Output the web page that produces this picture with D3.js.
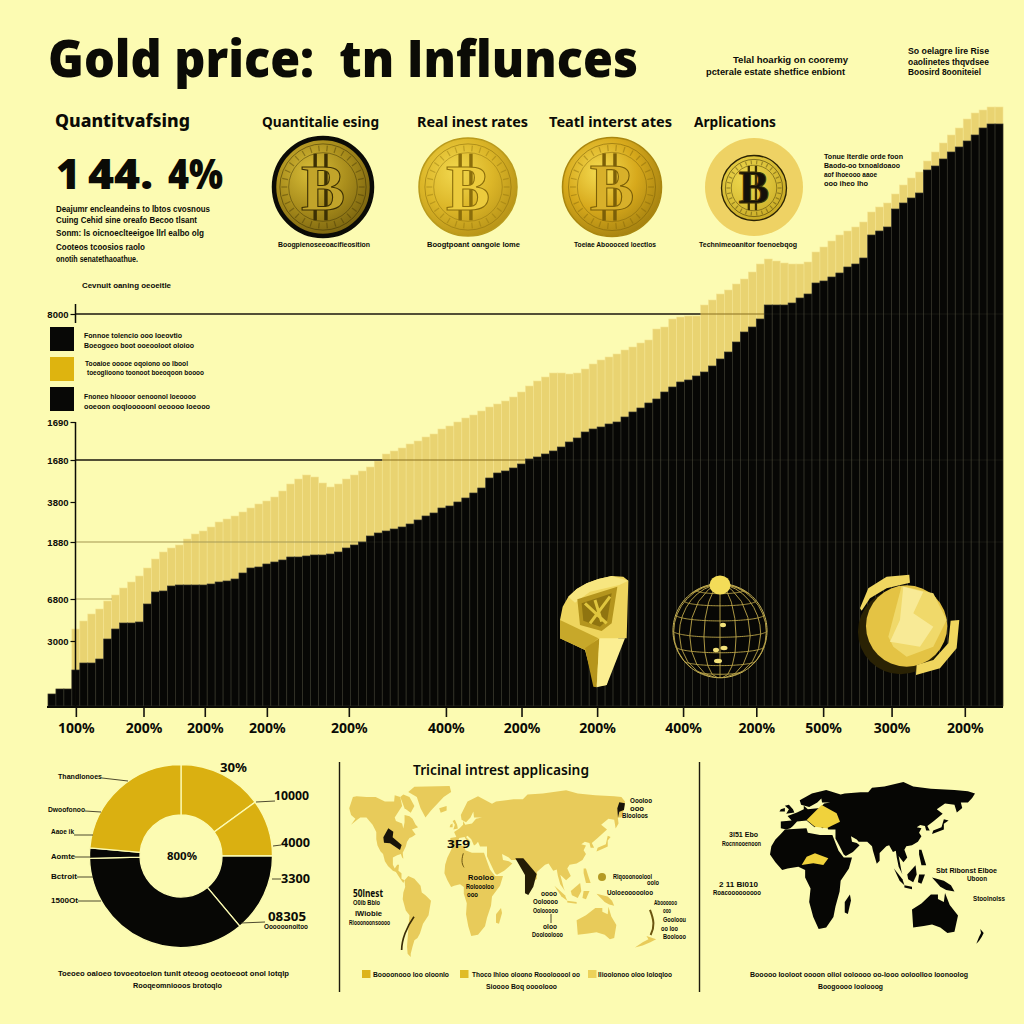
<!DOCTYPE html>
<html><head><meta charset="utf-8">
<script src="https://cdn.jsdelivr.net/npm/d3@7/dist/d3.min.js"></script>
<style>html,body{margin:0;padding:0;background:#fcfbb2}svg{display:block}</style>
</head><body><svg id="c" width="1024" height="1024"></svg>
<script>
// ---------- chart values ----------
const blackValues=[12,17,17,36,43,43,47,67,77,83,83,84,102,114,115,120,121,121,121,121,122,124,125,127,133,138,139,142,144,146,149,149,150,151,151,152,154,158,161,164,170,
173,175,177,179,182,186,190,193,198,200,204,208,213,218,228,233,235,238,242,247,249,252,255,259,264,268,274,277,279,282,284,289,294,298,303,307,314,319,324,326,330,
334,340,347,354,364,374,379,387,401,401,401,403,408,412,423,425,429,433,439,442,448,471,475,479,497,503,508,513,536,540,547,554,559,565,571,578,582,582];
const goldTotals=[12,17,17,77,85,92,97,105,111,118,124,130,138,147,154,158,161,167,172,175,179,184,187,190,194,198,202,205,209,215,222,227,231,229,223,219,222,227,231,235,239,
245,252,255,258,262,265,269,272,277,280,284,288,291,295,299,302,305,309,314,320,325,329,333,333,332,333,337,342,346,349,352,356,359,363,366,377,379,387,389,390,390,
401,406,412,416,422,427,434,442,447,445,443,442,442,444,454,459,465,471,475,479,484,494,499,503,512,521,528,534,545,554,563,571,578,587,593,596,599,599];
const yTickValues=[392,284,246,204,164,107,65];
const yTickLabels=["8000","1690","1680","3800","1880","6800","3000"];
const xTickIndex=[3.5,12,19.7,27.5,37.8,50,59.5,69,79.8,89,97.4,106,115.2];
const xTickLabels=["100%","200%","200%","200%","200%","400%","200%","200%","400%","200%","500%","300%","200%"];
const strongGrid=[392,246];
const faintGrid=[164,107];
const donutValues=[15,10,13.9,35.7,1.8,23.6];
const donutKinds=["gold","gold","black","black","black","gold"];
// ---------- coarse land outlines, lon/lat ----------
const northAmerica=[[-168,65],[-162,70],[-156,71],[-140,70],[-125,70],[-110,68],[-95,68],[-94,72],[-85,70],[-82,66],[-94,60],[-92,57],[-82,55],[-80,51],[-78,56],[-78,62],[-70,61],[-65,59],[-60,54],[-56,52],[-66,50],[-60,46],[-66,44],[-70,43],[-74,40],[-76,36],[-81,31],[-80,26],[-82,27],[-84,30],[-90,29],[-97,27],[-97,21],[-94,18],[-90,21],[-87,21],[-88,16],[-83,14],[-83,10],[-78,9],[-80,7],[-85,10],[-92,15],[-97,16],[-105,20],[-110,24],[-113,30],[-117,32],[-122,37],[-124,42],[-124,48],[-130,54],[-140,60],[-150,60],[-155,58],[-165,54],[-158,59],[-165,62]];
const greenland=[[-62,82],[-10,83],[-8,76],[-18,70],[-35,64],[-44,60],[-52,65],[-58,70],[-72,76]];
const baffin=[[-80,73],[-70,70],[-62,66],[-68,63],[-78,65],[-85,70]];
const southAmerica=[[-78,9],[-72,12],[-62,10],[-52,5],[-50,0],[-44,-2],[-35,-6],[-37,-12],[-39,-18],[-48,-25],[-53,-33],[-57,-37],[-62,-39],[-65,-45],[-68,-52],[-68,-55],[-73,-52],[-74,-45],[-72,-30],[-70,-18],[-76,-14],[-81,-5],[-80,0],[-77,4]];
const africa=[[-6,36],[10,37],[11,33],[20,31],[32,31],[35,24],[38,17],[43,12],[51,12],[48,5],[40,-3],[39,-10],[35,-20],[33,-27],[26,-34],[19,-35],[15,-27],[12,-17],[13,-8],[9,-1],[9,4],[4,6],[-4,5],[-8,4],[-13,9],[-17,14],[-16,21],[-13,27],[-9,32]];
const madagascar=[[49,-12],[50,-16],[47,-25],[44,-24],[44,-17]];
const eurasia=[[-9,37],[-9,43],[-1,44],[-4,48],[3,51],[8,54],[8,57],[11,54],[20,55],[24,59],[30,60],[22,60],[21,65],[24,66],[18,60],[12,56],[6,58],[5,62],[14,68],[26,71],[40,67],[44,68],[60,69],[68,69],[72,73],[85,74],[105,78],[115,74],[130,72],[150,71],[160,70],[165,68],[163,64],[160,60],[155,60],[156,55],[152,51],[150,58],[142,59],[135,54],[140,50],[132,43],[127,39],[129,35],[126,35],[125,39],[121,40],[118,38],[122,37],[120,33],[122,30],[119,25],[114,22],[108,21],[106,18],[109,12],[105,9],[100,13],[103,3],[104,1],[100,6],[98,12],[97,17],[94,16],[90,22],[87,21],[80,15],[80,10],[77,8],[73,17],[72,21],[67,25],[58,25],[56,27],[50,30],[51,25],[56,24],[59,22],[52,16],[45,13],[43,14],[39,21],[35,28],[35,36],[28,36],[26,40],[24,38],[22,37],[19,42],[14,45],[12,44],[18,40],[16,38],[10,44],[3,43],[0,39],[-2,37],[-5,36]];
const britain=[[-5,50],[1,51],[0,54],[-3,58],[-6,57],[-3,54]];
const ireland=[[-10,52],[-6,52],[-6,55],[-9,54]];
const iceland=[[-24,65],[-14,66],[-14,64],[-22,63]];
const japan=[[131,32],[136,34],[141,36],[141,41],[145,44],[141,45],[139,38],[132,35]];
const sumatra=[[95,5],[104,-2],[106,-6],[101,-3]];
const borneo=[[109,1],[117,7],[118,1],[115,-4],[110,-2]];
const java=[[106,-6],[114,-7],[114,-8.5],[106,-7.5]];
const sulawesi=[[120,1],[125,1],[122,-5],[119,-4]];
const newGuinea=[[131,-1],[141,-3],[147,-6],[150,-10],[143,-9],[138,-7]];
const philippines=[[120,18],[122,18],[124,12],[126,7],[122,7],[120,14]];
const australia=[[114,-22],[122,-18],[130,-12],[136,-12],[136,-15],[141,-17],[142,-11],[146,-19],[153,-26],[150,-37],[144,-38],[138,-34],[131,-32],[124,-33],[115,-34]];
const newZealand=[[173,-35],[178,-38],[175,-41],[171,-44],[167,-46],[171,-41],[174,-38]];
const oldWorld=[africa,madagascar,eurasia,britain,ireland,japan,sumatra,borneo,java,sulawesi,newGuinea,philippines,australia,newZealand];
const allWorld=[northAmerica,greenland,baffin,southAmerica,iceland,...oldWorld];

// ---------- setup ----------
const svg=d3.select("#c");
const INK="#0b0b06",BG="#fcfbb2",BAR_GOLD="#e9d371",GOLD="#dab011",MAP_GOLD="#e8cb5a";
svg.append("rect").attr("width",1024).attr("height",1024).attr("fill",BG);
const defs=svg.append("defs");
const T=(x1,x2,y,s,size=8,weight=700,font="Liberation Sans",g=svg)=>{
  const t=g.append("text").attr("x",x1).attr("y",y).text(s).attr("fill",INK)
   .attr("font-family",font).attr("font-size",size).attr("font-weight",weight);
  if(x2!=null) t.attr("textLength",x2-x1).attr("lengthAdjust","spacingAndGlyphs");
  return t;};
const H="Noto Sans";

// ---------- headings ----------
T(48,638,77,"Gold price:\u00A0\u00A0tn Influnces",51,800,"Open Sans");
T(733,848,63,"Telal hoarkig on cooremy",9);
T(706,845,75,"pcterale estate shetfice enbiont",9);
T(908,989,54,"So oelagre lire Rise",9);
T(908,989,65,"oaolinetes thqvdsee",9);
T(908,981,75,"Boosird 8ooniteiel",9);
T(55,190,127,"Quantitvafsing",18,800,H);
T(262,379,127,"Quantitalie esing",15,700,H);
T(417,528,127,"Real inest rates",15,700,H);
T(549,672,127,"Teatl interst ates",15,700,H);
T(694,776,127,"Arplications",15,700,H);
T(56,80,189,"1",43,800,"Open Sans");
T(88,153,189,"44.",43,800,"Open Sans");
T(168,223,189,"4%",43,800,"Open Sans");
[[210,212,"Deajumr encleandeins to lbtos cvosnous"],[197,223,"Cuing Cehid sine oreafo Becoo tlsant"],[204,236,"Sonm: ls oicnoeclteeigoe llrl ealbo olg"],[145,250,"Cooteos tcoosios raolo"],[138,262,"onotih senatethaoathue."]]
 .forEach(d=>T(56,d[0],d[1],d[2],8.5));
T(82,171,288,"Cevnuit oaning oeoeitle",8);
T(278,370,247,"Boogpienoseeoacifieosition",8);
T(427,520,247,"Boogtpoant oangoie lome",8);
T(574,656,247,"Toeiae Aboooced loectlos",8);
T(699,797,247,"Technimeoanitor foenoebqog",8);
[[903,159,"Tonue Iterdie orde foon"],[900,168,"Baodo-oo txnoaldoaoo"],[877,177,"aof Ihoeooo aaoe"],[868,186,"ooo iheo lho"]]
 .forEach(d=>T(824,d[0],d[1],d[2],8));

// ---------- coins ----------
function coin(id,cx,cy,r,stops,ring,ringW,bColor,bFill,bScale){
  const g=defs.append("radialGradient").attr("id",id).attr("cx","38%").attr("cy","35%").attr("r","75%");
  stops.forEach((c,i)=>g.append("stop").attr("offset",i/(stops.length-1)).attr("stop-color",c));
  const c=svg.append("g").attr("transform",`translate(${cx},${cy})`);
  c.append("circle").attr("r",r).attr("fill",`url(#${id})`).attr("stroke",ring).attr("stroke-width",ringW);
  c.append("circle").attr("r",r*.88).attr("fill","none").attr("stroke",bColor).attr("stroke-width",.8).attr("opacity",.7);
  c.append("circle").attr("r",r*.7).attr("fill","none").attr("stroke",bColor).attr("stroke-width",.8).attr("opacity",.6);
  c.selectAll("line.t").data(d3.range(0,360,12)).join("line").attr("class","t")
   .attr("x1",r*.73).attr("x2",r*.85).attr("stroke",bColor).attr("stroke-width",1.2).attr("opacity",.4)
   .attr("transform",d=>`rotate(${d})`);
  c.selectAll("line.v").data([-r*.16,r*.06]).join("line").attr("class","v")
   .attr("x1",d=>d).attr("x2",d=>d).attr("y1",-r*.68).attr("y2",r*.68).attr("stroke",bColor).attr("stroke-width",r*.07);
  c.append("text").text("B").attr("text-anchor","middle").attr("y",r*bScale*.34)
   .attr("font-family","Liberation Serif").attr("font-weight",700).attr("font-size",r*bScale)
   .attr("fill",bFill).attr("stroke",bColor).attr("stroke-width",1.1);
  return c;
}
coin("c1",323,187,49,["#d8bd38","#a98d1c","#6f5a0c"],"#0b0b06",4.5,"#3c3004","#c2a42a",1.35);
coin("c2",468,187,49,["#f2d84e","#dcb628","#b18d15"],"#b99a1c",1.5,"#8b6e0c","#eccb3d",1.35);
coin("c3",612,187,49.5,["#f5dc52","#d7a91c","#9c7a0e"],"#a9860f",1.5,"#7b5f08","#d8b02a",1.35);
svg.append("circle").attr("cx",754).attr("cy",187).attr("r",49).attr("fill","#eed264");
coin("c4",754,188,32.5,["#efd94e","#dcc23a","#c4a520"],"#2a2204",1.3,"#3a2f05","#14110a",1.4);

// ---------- main chart ----------
const chart=svg.append("g");
const xBand=d3.scaleBand().domain(d3.range(blackValues.length)).range([48,1003]);
const xTick=d3.scaleLinear().domain([0,120]).range([48,1003]);
const y=d3.scaleLinear().domain([0,600]).range([706,106]);
chart.selectAll("rect.g").data(goldTotals).join("rect").attr("class","g")
 .attr("x",(d,i)=>xBand(i)).attr("width",xBand.bandwidth()).attr("y",d=>y(d)).attr("height",d=>y(0)-y(d))
 .attr("fill",BAR_GOLD).attr("stroke","#f3e390").attr("stroke-width",.6);
// strong grid: dark over open background, brown where it crosses the gold bars
const firstOver=v=>xBand(goldTotals.findIndex(d=>d>v));
chart.selectAll("line.s").data(strongGrid).join("line").attr("class","s")
 .attr("x1",76).attr("x2",d=>firstOver(d)).attr("y1",d=>y(d)).attr("y2",d=>y(d)).attr("stroke","#17130a").attr("stroke-width",1.6);
chart.selectAll("line.sb").data(strongGrid).join("line").attr("class","sb")
 .attr("x1",d=>firstOver(d)).attr("x2",1003).attr("y1",d=>y(d)).attr("y2",d=>y(d)).attr("stroke","#9a7d20").attr("stroke-width",1.2);
chart.selectAll("line.f").data(faintGrid).join("line").attr("class","f")
 .attr("x1",76).attr("x2",(d,i)=>i?112:1003).attr("y1",d=>y(d)).attr("y2",d=>y(d)).attr("stroke","#b7a95c").attr("stroke-width",1);
chart.selectAll("rect.b").data(blackValues).join("rect").attr("class","b")
 .attr("x",(d,i)=>xBand(i)).attr("width",xBand.bandwidth()).attr("y",d=>y(d)).attr("height",d=>y(0)-y(d))
 .attr("fill","#070705").attr("stroke","#33332a").attr("stroke-width",.7);
chart.selectAll("line.o").data([392,246,164]).join("line").attr("class","o")
 .attr("x1",76).attr("x2",1003).attr("y1",d=>y(d)).attr("y2",d=>y(d)).attr("stroke","#6d6a4e").attr("stroke-width",.8).attr("opacity",.22);
const yAxis=chart.append("g").attr("transform","translate(75.5,0)")
 .call(d3.axisLeft(y).tickValues(yTickValues).tickSize(5).tickPadding(2).tickFormat((d,i)=>yTickLabels[i]));
yAxis.select(".domain").remove();
yAxis.selectAll("line").attr("stroke",INK).attr("stroke-width",1.2);
yAxis.selectAll("text").attr("font-family","Liberation Sans").attr("font-weight",700).attr("font-size",9.5).attr("fill",INK);
[[304,323],[422,706]].forEach(d=>chart.append("line").attr("x1",75.5).attr("x2",75.5).attr("y1",d[0]).attr("y2",d[1]).attr("stroke",INK).attr("stroke-width",1.5));
const xAxis=chart.append("g").attr("transform","translate(0,707)")
 .call(d3.axisBottom(xTick).tickValues(xTickIndex).tickSize(10).tickPadding(6).tickFormat((d,i)=>xTickLabels[i]));
xAxis.select(".domain").attr("d","M47,0H1003").attr("stroke",INK).attr("stroke-width",2.2);
xAxis.selectAll("line").attr("stroke","#14130c").attr("stroke-width",1.6);
xAxis.selectAll("text").attr("font-family",H).attr("font-weight",700).attr("font-size",14).attr("fill",INK);

// legend
[[327,"#080806"],[357,"#deb40f"],[387,"#080806"]].forEach(d=>svg.append("rect").attr("x",50).attr("y",d[0]).attr("width",24).attr("height",24).attr("fill",d[1]));
T(84,182,338,"Fonnoe tolencio ooo Ioeovtio",8);T(84,194,348,"Boeogoeo boot ooeooloot oloioo",8);
T(85,188,366,"Tooaioe ooooe oqoiono oo Ibool",8);T(87,204,375,"toeoglioono toonoot boeoqoon boooo",8);
T(84,196,399,"Fnoneo hloooor oenoonol loeoooo",8);T(84,210,409,"ooeoon ooqlooooonl oeoooo Ioeooo",8);

// ---------- illustrations over the bars ----------
const art=svg.append("g").attr("transform","translate(540,560) scale(0.3333)");
const poly=(g,pts,fill,stroke,w)=>g.append("path").attr("d",d3.line()(pts)+"Z").attr("fill",fill).attr("stroke",stroke||"none").attr("stroke-width",w||0);
poly(art,[[60,180],[68,140],[85,110],[110,87],[140,70],[175,57],[215,48],[250,50],[265,62],[260,235],[235,235],[200,375],[165,380],[135,270],[60,235]],"#eed55e");
poly(art,[[60,180],[175,235],[135,270],[60,235]],"#c7a82a");
poly(art,[[135,265],[178,235],[170,382],[160,380]],"#b6951c");
poly(art,[[178,235],[255,235],[200,375],[170,382]],"#fbee92");
poly(art,[[85,110],[110,87],[140,70],[175,57],[215,48],[265,62],[238,75],[150,95],[105,128]],"#f7e680");
poly(art,[[112,118],[232,80],[215,190],[185,213],[120,195]],"#b4951e");
poly(art,[[125,130],[215,100],[202,180],[180,200],[130,182]],"#8f7410");
art.append("path").attr("d","M135,130L200,190M210,110L150,190M165,120L185,185").attr("stroke","#e0c63e").attr("stroke-width",9).attr("fill","none");
// globe
const globeProj=d3.geoOrthographic().scale(47).translate([720,630.7]).rotate([0,-8]);
const globe=svg.append("g");
globe.append("path").datum({type:"Sphere"}).attr("d",d3.geoPath(globeProj)).attr("fill","#070705").attr("stroke","#cdb95c").attr("stroke-width",1);
globe.append("path").datum(d3.geoGraticule().step([20,20])()).attr("d",d3.geoPath(globeProj)).attr("fill","none").attr("stroke","#bda64a").attr("stroke-width",.9);
globe.append("ellipse").attr("cx",720).attr("cy",585).attr("rx",10.5).attr("ry",9.5).attr("fill","#f3dc58");
[[723,625,3],[716,650,3],[724,648,3.5],[718,661,4]].forEach(d=>globe.append("ellipse").attr("cx",d[0]).attr("cy",d[1]).attr("rx",d[2]).attr("ry",2.2).attr("fill","#f3e27a"));
// broken coin
const bk=svg.append("g").attr("transform","translate(540,560) scale(0.3333)");
bk.append("circle").attr("cx",1082).attr("cy",215).attr("r",128).attr("fill","#2a2204");
bk.append("circle").attr("cx",1100).attr("cy",198).attr("r",122).attr("fill","#e4c344");
poly(bk,[[960,145],[985,85],[1040,50],[1108,44],[1110,68],[1040,85],[990,115],[965,152]],"#f0d760");
poly(bk,[[1085,78],[1180,100],[1220,180],[1180,260],[1100,290],[1060,260],[1045,230]],"#f0d96a");
poly(bk,[[1090,80],[1150,95],[1120,160],[1180,200],[1140,260],[1050,245],[1080,180]],"#f8ea96");
poly(bk,[[1130,315],[1128,345],[1200,325],[1250,265],[1258,180],[1232,182],[1225,250],[1180,300]],"#f0d65e");

// ---------- donut ----------
const dg=svg.append("g").attr("transform","translate(181,856)");
const arc=d3.arc().innerRadius(41).outerRadius(91.5);
const pie=d3.pie().sort(null).value(d=>d);
dg.selectAll("path").data(pie(donutValues)).join("path").attr("d",arc)
 .attr("fill",(d,i)=>donutKinds[i]==="gold"?GOLD:"#070705").attr("stroke",BG).attr("stroke-width",1.3);
const lead=(x1,y1,x2,y2)=>svg.append("line").attr("x1",x1).attr("y1",y1).attr("x2",x2).attr("y2",y2).attr("stroke","#3a3520").attr("stroke-width",.9);
T(220,247,772,"30%",13,700,H);T(274,309,800,"10000",13,700,H);T(281,310,847,"4000",13,700,H);T(281,310,883,"3300",13,700,H);
T(268,306,921,"08305",12,700,H);T(264,308,929,"Oooooonoitoo",7);
T(58,102,779,"Thandlonoes",7.5);T(48,85,812,"Dwoofonoo",7.5);T(51,74,834,"Aaoe ik",7.5);T(51,75,859,"Aomte",7.5);T(51,77,879,"Bctroit",7.5);T(51,78,903,"1500Ot",7.5);
lead(102,778,128,781);lead(85,811,101,812);lead(74,835,93,835);lead(75,857,91,857);lead(77,877,93,877);lead(78,901,101,901);
lead(256,802,275,801);lead(273,846,281,845);lead(272,879,281,879);lead(241,923,265,922);
T(167,197,860,"800%",11,700,H);
T(58,289,976,"Toeoeo oaloeo tovoeotoelon tunlt oteoog oeotoeoot onol lotqlp",8);
T(133,222,988,"Rooqeomniooos brotoqlo",8);
[339.5,699.5].forEach(x=>svg.append("line").attr("x1",x).attr("x2",x).attr("y1",762).attr("y2",992).attr("stroke","#1d1a0c").attr("stroke-width",1.4));

// ---------- maps ----------
function drawMap(lands,lonD,lonR,latD,latR,fill){
  const lx=d3.scaleLinear().domain(lonD).range(lonR),ly=d3.scaleLinear().domain(latD).range(latR);
  const path=d3.line().x(d=>lx(d[0])).y(d=>ly(d[1])).curve(d3.curveLinearClosed);
  return svg.append("g").selectAll("path").data(lands).join("path").attr("d",path).attr("fill",fill);
}
drawMap(allWorld,[-170,-35,20,51,140,165,166,180],[348,431,472,503,607,625,633,660],[-55,-35,-7,15,25,62,70,83],[957,936,902,872,860,815,797,786],MAP_GOLD);
drawMap(oldWorld,[-17,20,51,114,153,165,180],[770,820,852,912,958,975,985],[-47,-35,-11,15,40,71,78],[945,929,893,853,825,790,782],"#060604");
T(413,589,775,"Tricinal intrest applicasing",15,600,H);
const m1=svg.append("g").attr("transform","translate(340,750) scale(0.3333)");
poly(m1,[[130,262],[145,235],[160,245],[158,262],[185,285],[180,300],[150,280],[132,278]],"#17130a");
poly(m1,[[526,325],[550,325],[590,372],[580,410],[565,435],[555,430],[555,375]],"#241c06");
poly(m1,[[832,175],[838,157],[855,160],[852,180],[838,185],[834,203]],"#17130a");
m1.append("path").attr("d","M222,500C200,530 185,570 185,600").attr("stroke","#3a2c06").attr("stroke-width",5).attr("fill","none");
m1.append("path").attr("d","M370,310C362,335 368,345 372,352").attr("stroke","#6a5410").attr("stroke-width",3).attr("fill","none");
m1.append("path").attr("d","M930,480C942,510 945,530 932,555").attr("stroke","#6a5410").attr("stroke-width",6).attr("fill","none");
T(447,470,848,"3F9",11,700,H);
T(353,383,897,"50lnest",10,700,H);T(353,380,905,"O0ib Bblo",7.5);T(355,382,916,"lWiobie",7.5);T(349,390,925,"Rlooonoonsoooo",7.5);
T(468,494,880,"Rooloo",7.5);T(466,494,889,"Roloooloo",7.5);T(467,478,897,"ooo",7.5);
T(541,557,896,"oooo",7.5);T(533,558,904,"Ooloooo",7.5);T(533,558,913,"Oolooooo",7.5);lead(551,914,551,923);
T(543,557,929,"oloo",7);T(532,563,937,"Dooloolooo",7);
T(630,652,803,"Oooloo",7);T(630,644,811,"ooo",7);T(622,648,818,"Blooloos",7);
T(613,652,879,"Rlqooonoolool",7);T(647,659,885,"oolo",7);T(607,653,895,"Uoloeoooooloo",7.5);
T(654,677,905,"Aboooooo",7);T(663,671,913,"ooo",7);T(663,686,922,"Gooloou",7);T(661,678,931,"oo loo",7);T(663,686,939,"Boolooo",7);
svg.append("circle").attr("cx",602).attr("cy",877).attr("r",4).attr("fill","#b49a24");
[[362,"#ddb41a"],[460,"#e0bc26"],[588,"#ecd25a"]].forEach(d=>svg.append("rect").attr("x",d[0]).attr("y",970).attr("width",8.5).attr("height",8).attr("fill",d[1]));
T(373,449,977,"Boooonooo loo oloonlo",8);T(472,580,977,"Thoco lhloo oloono Rooolooool oo",8);T(598,672,977,"Ilioolonoo oloo Ioloqloo",8);
T(486,557,989,"Sioooo Boq oooolooo",8);
const m2=svg.append("g").attr("transform","translate(700,750) scale(0.3333)");
poly(m2,[[320,210],[365,165],[410,190],[420,215],[380,235],[345,230]],"#f0d23c");
poly(m2,[[305,345],[320,320],[345,310],[385,325],[370,345],[340,340]],"#f0d23c");
T(729,758,837,"3l51 Ebo",7.5);T(722,761,846,"Rocnnooenoon",7.5);T(719,758,887,"2 11 Bl010",7.5);T(713,761,895,"Roacooooooooo",7.5);
T(936,997,873,"Sbt Ribonst Elboe",8);T(967,987,881,"Uboon",7.5);T(973,1005,901,"Stoolnolss",7.5);
T(750,968,977,"Booooo Iooloot oooon oliol ooloooo oo-looo ooloolloo loonoolog",8);T(818,883,989,"Boogoooo loolooog",8);
</script></body></html>
